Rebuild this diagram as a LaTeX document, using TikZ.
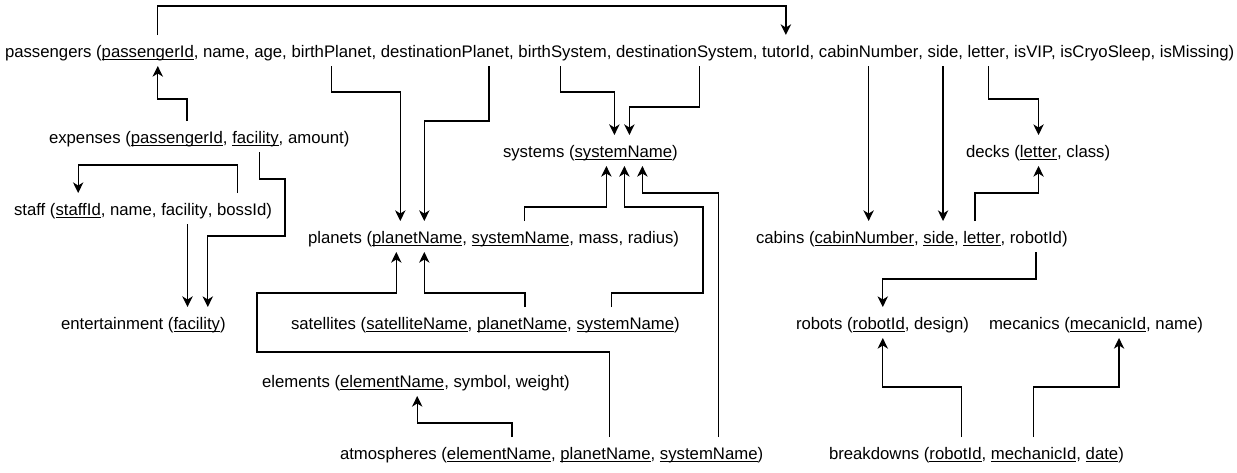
\documentclass[tikz,border=0pt]{standalone}
\usepackage{fontspec}
\setmainfont{Liberation Sans}
\usepackage{tikz}
\usetikzlibrary{positioning,calc,arrows.meta}

% key attribute: underlined at a fixed depth
\newcommand\pkey[1]{\setbox0=\hbox{#1}\rlap{\rule[-2.4pt]{\wd0}{0.75pt}}\box0}
\newcommand\ws{\ \hbox{}}

\begin{document}
\begin{tikzpicture}[
  x=0.75pt, y=-0.75pt,
  font=\fontsize{12.55pt}{15pt}\selectfont,
  seg/.style={inner sep=0pt, outer sep=0pt, text height=16.5pt, text depth=6.75pt},
  fk/.style={draw, line width=1pt, -{Stealth[length=8pt, width=7.8pt, inset=2.4pt]}}
]
\useasboundingbox (0,0) rectangle (1237,472);

% passengers
\node[seg, anchor=base west] (p0) at (5,57) {passengers (};
\node[seg, right=0pt of p0] (pPid) {\pkey{passengerId}};
\node[seg, right=0pt of pPid] (p1) {, name, age,\ws};
\node[seg, right=0pt of p1] (pBPl) {birthPlanet};
\node[seg, right=0pt of pBPl] (p2) {,\ws};
\node[seg, right=0pt of p2] (pDPl) {destinationPlanet};
\node[seg, right=0pt of pDPl] (p3) {,\ws};
\node[seg, right=0pt of p3] (pBSy) {birthSystem};
\node[seg, right=0pt of pBSy] (p4) {,\ws};
\node[seg, right=0pt of p4] (pDSy) {destinationSystem};
\node[seg, right=0pt of pDSy] (p5) {,\ws};
\node[seg, right=0pt of p5] (pTut) {tutorId};
\node[seg, right=0pt of pTut] (p6) {,\ws};
\node[seg, right=0pt of p6] (pCab) {cabinNumber};
\node[seg, right=0pt of pCab] (p7) {,\ws};
\node[seg, right=0pt of p7] (pSide) {side};
\node[seg, right=0pt of pSide] (p8) {,\ws};
\node[seg, right=0pt of p8] (pLet) {letter};
\node[seg, right=0pt of pLet] (p9) {, isVIP, isCryoSleep, isMissing)};

% expenses
\node[seg, anchor=base west] (e0) at (49,143) {expenses (};
\node[seg, right=0pt of e0] (ePid) {\pkey{passengerId}};
\node[seg, right=0pt of ePid] (e1) {,\ws};
\node[seg, right=0pt of e1] (eFac) {\pkey{facility}};
\node[seg, right=0pt of eFac] (e2) {, amount)};

% systems
\node[seg, anchor=base west] (s0) at (503,157) {systems (};
\node[seg, right=0pt of s0] (sSN) {\pkey{systemName}};
\node[seg, right=0pt of sSN] (s1) {)};

% decks
\node[seg, anchor=base west] (d0) at (966,157) {decks (};
\node[seg, right=0pt of d0] (dLet) {\pkey{letter}};
\node[seg, right=0pt of dLet] (d1) {, class)};

% staff
\node[seg, anchor=base west] (st0) at (14,215) {staff (};
\node[seg, right=0pt of st0] (stSid) {\pkey{staffId}};
\node[seg, right=0pt of stSid] (st1) {, name,\ws};
\node[seg, right=0pt of st1] (stFac) {facility};
\node[seg, right=0pt of stFac] (st2) {,\ws};
\node[seg, right=0pt of st2] (stBoss) {bossId};
\node[seg, right=0pt of stBoss] (st3) {)};

% planets
\node[seg, anchor=base west] (pl0) at (308,243) {planets (};
\node[seg, right=0pt of pl0] (plPN) {\pkey{planetName}};
\node[seg, right=0pt of plPN] (pl1) {,\ws};
\node[seg, right=0pt of pl1] (plSN) {\pkey{systemName}};
\node[seg, right=0pt of plSN] (pl2) {, mass, radius)};

% cabins
\node[seg, anchor=base west] (c0) at (756,243) {cabins (};
\node[seg, right=0pt of c0] (cCab) {\pkey{cabinNumber}};
\node[seg, right=0pt of cCab] (c1) {,\ws};
\node[seg, right=0pt of c1] (cSide) {\pkey{side}};
\node[seg, right=0pt of cSide] (c2) {,\ws};
\node[seg, right=0pt of c2] (cLet) {\pkey{letter}};
\node[seg, right=0pt of cLet] (c3) {,\ws};
\node[seg, right=0pt of c3] (cRob) {robotId};
\node[seg, right=0pt of cRob] (c4) {)};

% entertainment
\node[seg, anchor=base west] (en0) at (61,329) {entertainment (};
\node[seg, right=0pt of en0] (enFac) {\pkey{facility}};
\node[seg, right=0pt of enFac] (en1) {)};

% satellites
\node[seg, anchor=base west] (sa0) at (291,329) {satellites (};
\node[seg, right=0pt of sa0] (saSat) {\pkey{satelliteName}};
\node[seg, right=0pt of saSat] (sa1) {,\ws};
\node[seg, right=0pt of sa1] (saPN) {\pkey{planetName}};
\node[seg, right=0pt of saPN] (sa2) {,\ws};
\node[seg, right=0pt of sa2] (saSN) {\pkey{systemName}};
\node[seg, right=0pt of saSN] (sa3) {)};

% robots, mecanics
\node[seg, anchor=base west] (r0) at (796,329) {robots (};
\node[seg, right=0pt of r0] (rRid) {\pkey{robotId}};
\node[seg, right=0pt of rRid] (r1) {, design)};
\node[seg, anchor=base west] (m0) at (989,329) {mecanics (};
\node[seg, right=0pt of m0] (mMid) {\pkey{mecanicId}};
\node[seg, right=0pt of mMid] (m1) {, name)};

% elements
\node[seg, anchor=base west] (el0) at (262,387) {elements (};
\node[seg, right=0pt of el0] (elEN) {\pkey{elementName}};
\node[seg, right=0pt of elEN] (el1) {, symbol, weight)};

% atmospheres
\node[seg, anchor=base west] (at0) at (340,459) {atmospheres (};
\node[seg, right=0pt of at0] (atEN) {\pkey{elementName}};
\node[seg, right=0pt of atEN] (at1) {,\ws};
\node[seg, right=0pt of at1] (atPN) {\pkey{planetName}};
\node[seg, right=0pt of atPN] (at2) {,\ws};
\node[seg, right=0pt of at2] (atSN) {\pkey{systemName}};
\node[seg, right=0pt of atSN] (at3) {)};

% breakdowns
\node[seg, anchor=base west] (b0) at (829,459) {breakdowns (};
\node[seg, right=0pt of b0] (bRid) {\pkey{robotId}};
\node[seg, right=0pt of bRid] (b1) {,\ws};
\node[seg, right=0pt of b1] (bMid) {\pkey{mechanicId}};
\node[seg, right=0pt of bMid] (b2) {,\ws};
\node[seg, right=0pt of b2] (bDate) {\pkey{date}};
\node[seg, right=0pt of bDate] (b3) {)};

% foreign keys
\coordinate (sf) at ($(stFac.south)+(3,0)$);
\draw[fk] ($(pPid.north)+(10,0)$) |- (0,6 -| pTut.north) -- (pTut.north);
\draw[fk] ($(ePid.north)+(10,0)$) -- ++(0,-22) -| ($(pPid.south)+(10,0)$);
\draw[fk] (pBPl.south) -- ++(0,26) -| ($(plPN.north)+(-17,0)$);
\draw[fk] ($(pDPl.south)+(44,0)$) -- ++(0,55) -| ($(plPN.north)+(7,0)$);
\draw[fk] ($(pBSy.south)+(-2,0)$) -- ++(0,26) -| ($(sSN.north)+(-9,0)$);
\draw[fk] ($(pDSy.south)+(15,0)$) -- ++(0,41) -| ($(sSN.north)+(6,0)$);
\draw[fk] (pCab.south) -- (pCab.south |- cCab.north);
\draw[fk] (pSide.south) -- (pSide.south |- cSide.north);
\draw[fk] ($(pLet.south)+(2,0)$) -- ++(0,33) -| (dLet.north);
\draw[fk] ($(cLet.north)+(-7,0)$) -- ++(0,-28) -| (dLet.south);
\draw[fk] (cRob.south) -- ++(0,27) -| ($(rRid.north)+(4,0)$);
\draw[fk] ($(bRid.north)+(6,0)$) -- ++(0,-50) -| ($(rRid.south)+(4,0)$);
\draw[fk] (bMid.north) -- ++(0,-50) -| ($(mMid.south)+(11,0)$);
\draw[fk] ($(stBoss.north)+(-4,0)$) -- ++(0,-28) -| (stSid.north);
\draw[fk] (sf) -- (sf |- enFac.north);
\draw[fk] ($(eFac.south)+(4,0)$) -- ++(0,27) -| (285,236) -| ($(enFac.north)+(11,0)$);
\draw[fk] ($(plSN.north)+(4,0)$) -- ++(0,-14) -| ($(sSN.south)+(-17,0)$);
\draw[fk] ($(saPN.north)+(3,0)$) -- ++(0,-14) -| ($(plPN.south)+(7,0)$);
\draw[fk] ($(saSN.north)+(-14,0)$) -- ++(0,-14) -| (703,207) -| ($(sSN.south)+(1,0)$);
\draw[fk] ($(atPN.north)+(4,0)$) -- ++(0,-85) -| (257,293) -| ($(plPN.south)+(-21,0)$);
\draw[fk] ($(atSN.north)+(10,0)$) -- ++(0,-244) -| ($(sSN.south)+(19,0)$);
\draw[fk] ($(atEN.north)+(13,0)$) -- ++(0,-14) -| ($(elEN.south)+(25,0)$);

\end{tikzpicture}
\end{document}
